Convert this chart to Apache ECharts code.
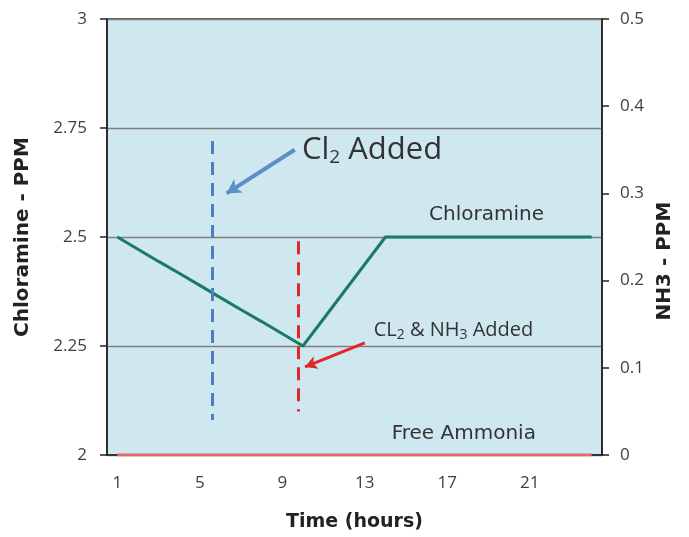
<!DOCTYPE html>
<html>
<head>
<meta charset="utf-8">
<script src="https://cdn.jsdelivr.net/npm/echarts@6/dist/echarts.min.js"></script>
<style>
  html, body { margin: 0; padding: 0; background: #fff; }
  #chart { width: 689px; height: 537px; }
</style>
</head>
<body>
<div id="chart"></div>
<script>
// 时间 (小时)
var hours = ['1', '2', '3', '4', '5', '6', '7', '8', '9', '10', '11', '12',
  '13', '14', '15', '16', '17', '18', '19', '20', '21', '22', '23', '24'];
// 氯胺 (左轴)
var chloramine = [2.5, 2.472, 2.444, 2.417, 2.389, 2.361, 2.333, 2.306, 2.278, 2.25,
  2.3125, 2.375, 2.4375, 2.5, 2.5, 2.5, 2.5, 2.5, 2.5, 2.5, 2.5, 2.5, 2.5, 2.5];
// 游离氨 (右轴)
var freeAmmonia = [0, 0, 0, 0, 0, 0, 0, 0, 0, 0, 0, 0, 0, 0, 0, 0, 0, 0, 0, 0, 0, 0, 0, 0];
// 注释位置 (隐藏的数值 x 轴 0..24, 左轴 y)
var cl2Line = [[5.09, 2.72], [5.09, 2.08]];
var mixLine = [[9.26, 2.49], [9.26, 2.1]];
var cl2Arrow = [[9.1, 2.70], [5.8, 2.60]];
var mixArrow = [[12.5, 2.257], [9.6, 2.202]];

var lblFont = '"Open Sans", "Noto Sans", sans-serif';
var gothic = '"DejaVu Sans", sans-serif';

function textPoint(coord, fmt, rich) {
  return {
    coord: coord, symbolSize: 0,
    label: { show: true, position: 'inside', formatter: fmt, rich: rich }
  };
}

var myChart = echarts.init(document.getElementById('chart'));
var option = {
  backgroundColor: '#ffffff',
  animation: false,
  grid: {
    left: 107, right: 87, top: 19, bottom: 82,
    show: true, backgroundColor: '#cfe7ee', borderColor: '#222', borderWidth: 1.5
  },
  xAxis: [{
    type: 'category',
    data: hours,
    boundaryGap: true,
    name: 'Time (hours)',
    nameLocation: 'middle',
    nameGap: 58,
    nameTextStyle: { fontFamily: gothic, fontWeight: 'bold', fontSize: 19, color: '#222' },
    axisLine: { lineStyle: { color: '#222', width: 1.5 } },
    axisTick: { interval: 3, length: 7, lineStyle: { color: '#222', width: 1.5 } },
    axisLabel: { interval: 3, color: '#404040', fontSize: 17, fontFamily: lblFont, margin: 20 },
    splitLine: { show: false }
  }, {
    type: 'value', min: 0, max: 24, show: false
  }],
  yAxis: [{
    type: 'value', min: 2, max: 3, interval: 0.25,
    name: 'Chloramine - PPM',
    nameLocation: 'middle',
    nameGap: 74,
    nameTextStyle: { fontFamily: gothic, fontWeight: 'bold', fontSize: 20, color: '#222' },
    axisLine: { show: true, lineStyle: { color: '#222', width: 1.5 } },
    axisTick: { show: true, length: 7, lineStyle: { color: '#222', width: 1.5 } },
    axisLabel: { color: '#404040', fontSize: 17, fontFamily: lblFont, margin: 20 },
    splitLine: { lineStyle: { color: '#7f7f7f', width: 1.3 } }
  }, {
    type: 'value', min: 0, max: 0.5, interval: 0.1,
    name: 'NH3 - PPM',
    nameLocation: 'middle',
    nameGap: 44,
    nameTextStyle: { fontFamily: gothic, fontWeight: 'bold', fontSize: 20, color: '#222', padding: [0, 48, 0, 0] },
    axisLine: { show: true, lineStyle: { color: '#222', width: 1.5 } },
    axisTick: { show: true, length: 7, lineStyle: { color: '#222', width: 1.5 } },
    axisLabel: { color: '#404040', fontSize: 17, fontFamily: lblFont, margin: 18 },
    splitLine: { show: false }
  }],
  series: [{
    name: 'Free Ammonia',
    type: 'line',
    yAxisIndex: 1,
    data: freeAmmonia,
    symbol: 'none',
    lineStyle: { color: '#e06a6a', width: 3 },
    z: 3
  }, {
    name: 'Chloramine',
    type: 'line',
    yAxisIndex: 0,
    data: chloramine,
    symbol: 'none',
    lineStyle: { color: '#1b7a5f', width: 3 },
    z: 4
  }, {
    name: 'notes',
    type: 'scatter',
    xAxisIndex: 1,
    yAxisIndex: 0,
    data: [],
    silent: true,
    markLine: {
      silent: true,
      animation: false,
      label: { show: false },
      data: [
        [{ coord: cl2Line[0], symbol: 'none', lineStyle: { color: '#4d7fc4', width: 3, type: [13, 8] } },
         { coord: cl2Line[1], symbol: 'none' }],
        [{ coord: mixLine[0], symbol: 'none', lineStyle: { color: '#e02828', width: 3, type: [13, 8] } },
         { coord: mixLine[1], symbol: 'none' }],
        [{ coord: cl2Arrow[0], symbol: 'none', lineStyle: { color: '#5b8fc8', width: 4, type: 'solid', curveness: 0.35 } },
         { coord: cl2Arrow[1], symbol: 'arrow', symbolSize: [12, 14] }],
        [{ coord: mixArrow[0], symbol: 'none', lineStyle: { color: '#e02828', width: 3, type: 'solid', curveness: 0.3 } },
         { coord: mixArrow[1], symbol: 'arrow', symbolSize: [10, 12] }]
      ]
    },
    markPoint: {
      silent: true,
      animation: false,
      data: [
        textPoint([12.85, 2.70], '{a|Cl}{s|2}{a| Added}', {
          a: { fontFamily: lblFont, fontSize: 31, color: '#333', lineHeight: 38 },
          s: { fontFamily: lblFont, fontSize: 19, color: '#333', padding: [16, 0, 0, 0], lineHeight: 38 }
        }),
        textPoint([18.4, 2.55], '{a|Chloramine}', {
          a: { fontFamily: gothic, fontSize: 20, color: '#333' }
        }),
        textPoint([16.8, 2.287], '{a|CL}{s|2}{a| & NH}{s|3}{a| Added}', {
          a: { fontFamily: lblFont, fontSize: 20, color: '#333', lineHeight: 26 },
          s: { fontFamily: lblFont, fontSize: 14, color: '#333', padding: [11, 0, 0, 0], lineHeight: 26 }
        }),
        textPoint([17.3, 2.048], '{a|Free Ammonia}', {
          a: { fontFamily: gothic, fontSize: 20, color: '#333' }
        })
      ]
    }
  }]
};
myChart.setOption(option);
</script>
</body>
</html>
